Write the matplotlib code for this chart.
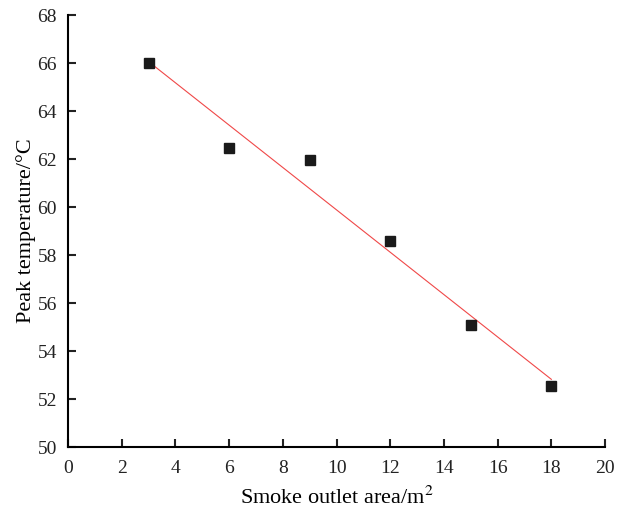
import numpy as np
import matplotlib
matplotlib.use("Agg")
import matplotlib.pyplot as plt

area = [3, 6, 9, 12, 15, 18]
peak_temp = [66.0, 62.45, 61.95, 58.6, 55.1, 52.55]

plt.rcParams['font.family'] = ['Liberation Serif', 'DejaVu Serif']
plt.rcParams['mathtext.fontset'] = 'stix'

fig = plt.figure(figsize=(6.27, 5.11), dpi=100)
ax = fig.add_axes([0.1085, 0.125, 0.8565, 0.8456])

x = np.array(area, dtype=float)
y = np.array(peak_temp, dtype=float)
k, b = np.polyfit(x, y, 1)
xf = np.array([x.min(), x.max()])
ax.plot(xf, k * xf + b, color='#f04848', lw=0.8, zorder=2)
ax.plot(x, y, 's', color='#1a1a1a', ms=7, zorder=3)

ax.set_xlim(0, 20)
ax.set_ylim(50, 68)
ax.set_xticks(np.arange(0, 21, 2))
ax.set_yticks(np.arange(50, 69, 2))
for s in ['top', 'right']:
    ax.spines[s].set_visible(False)
for s in ['left', 'bottom']:
    ax.spines[s].set_linewidth(1.5)
ax.tick_params(direction='in', length=6, width=1.5, labelsize=14, colors='#222222')
ax.tick_params(axis='x', pad=9)
ax.tick_params(axis='y', pad=8)
ax.set_xlabel('Smoke outlet area/m$^2$', fontsize=16, labelpad=7)
ax.set_ylabel('Peak temperature/\u00b0C', fontsize=16, labelpad=1)

fig.savefig('out.png', dpi=100)
